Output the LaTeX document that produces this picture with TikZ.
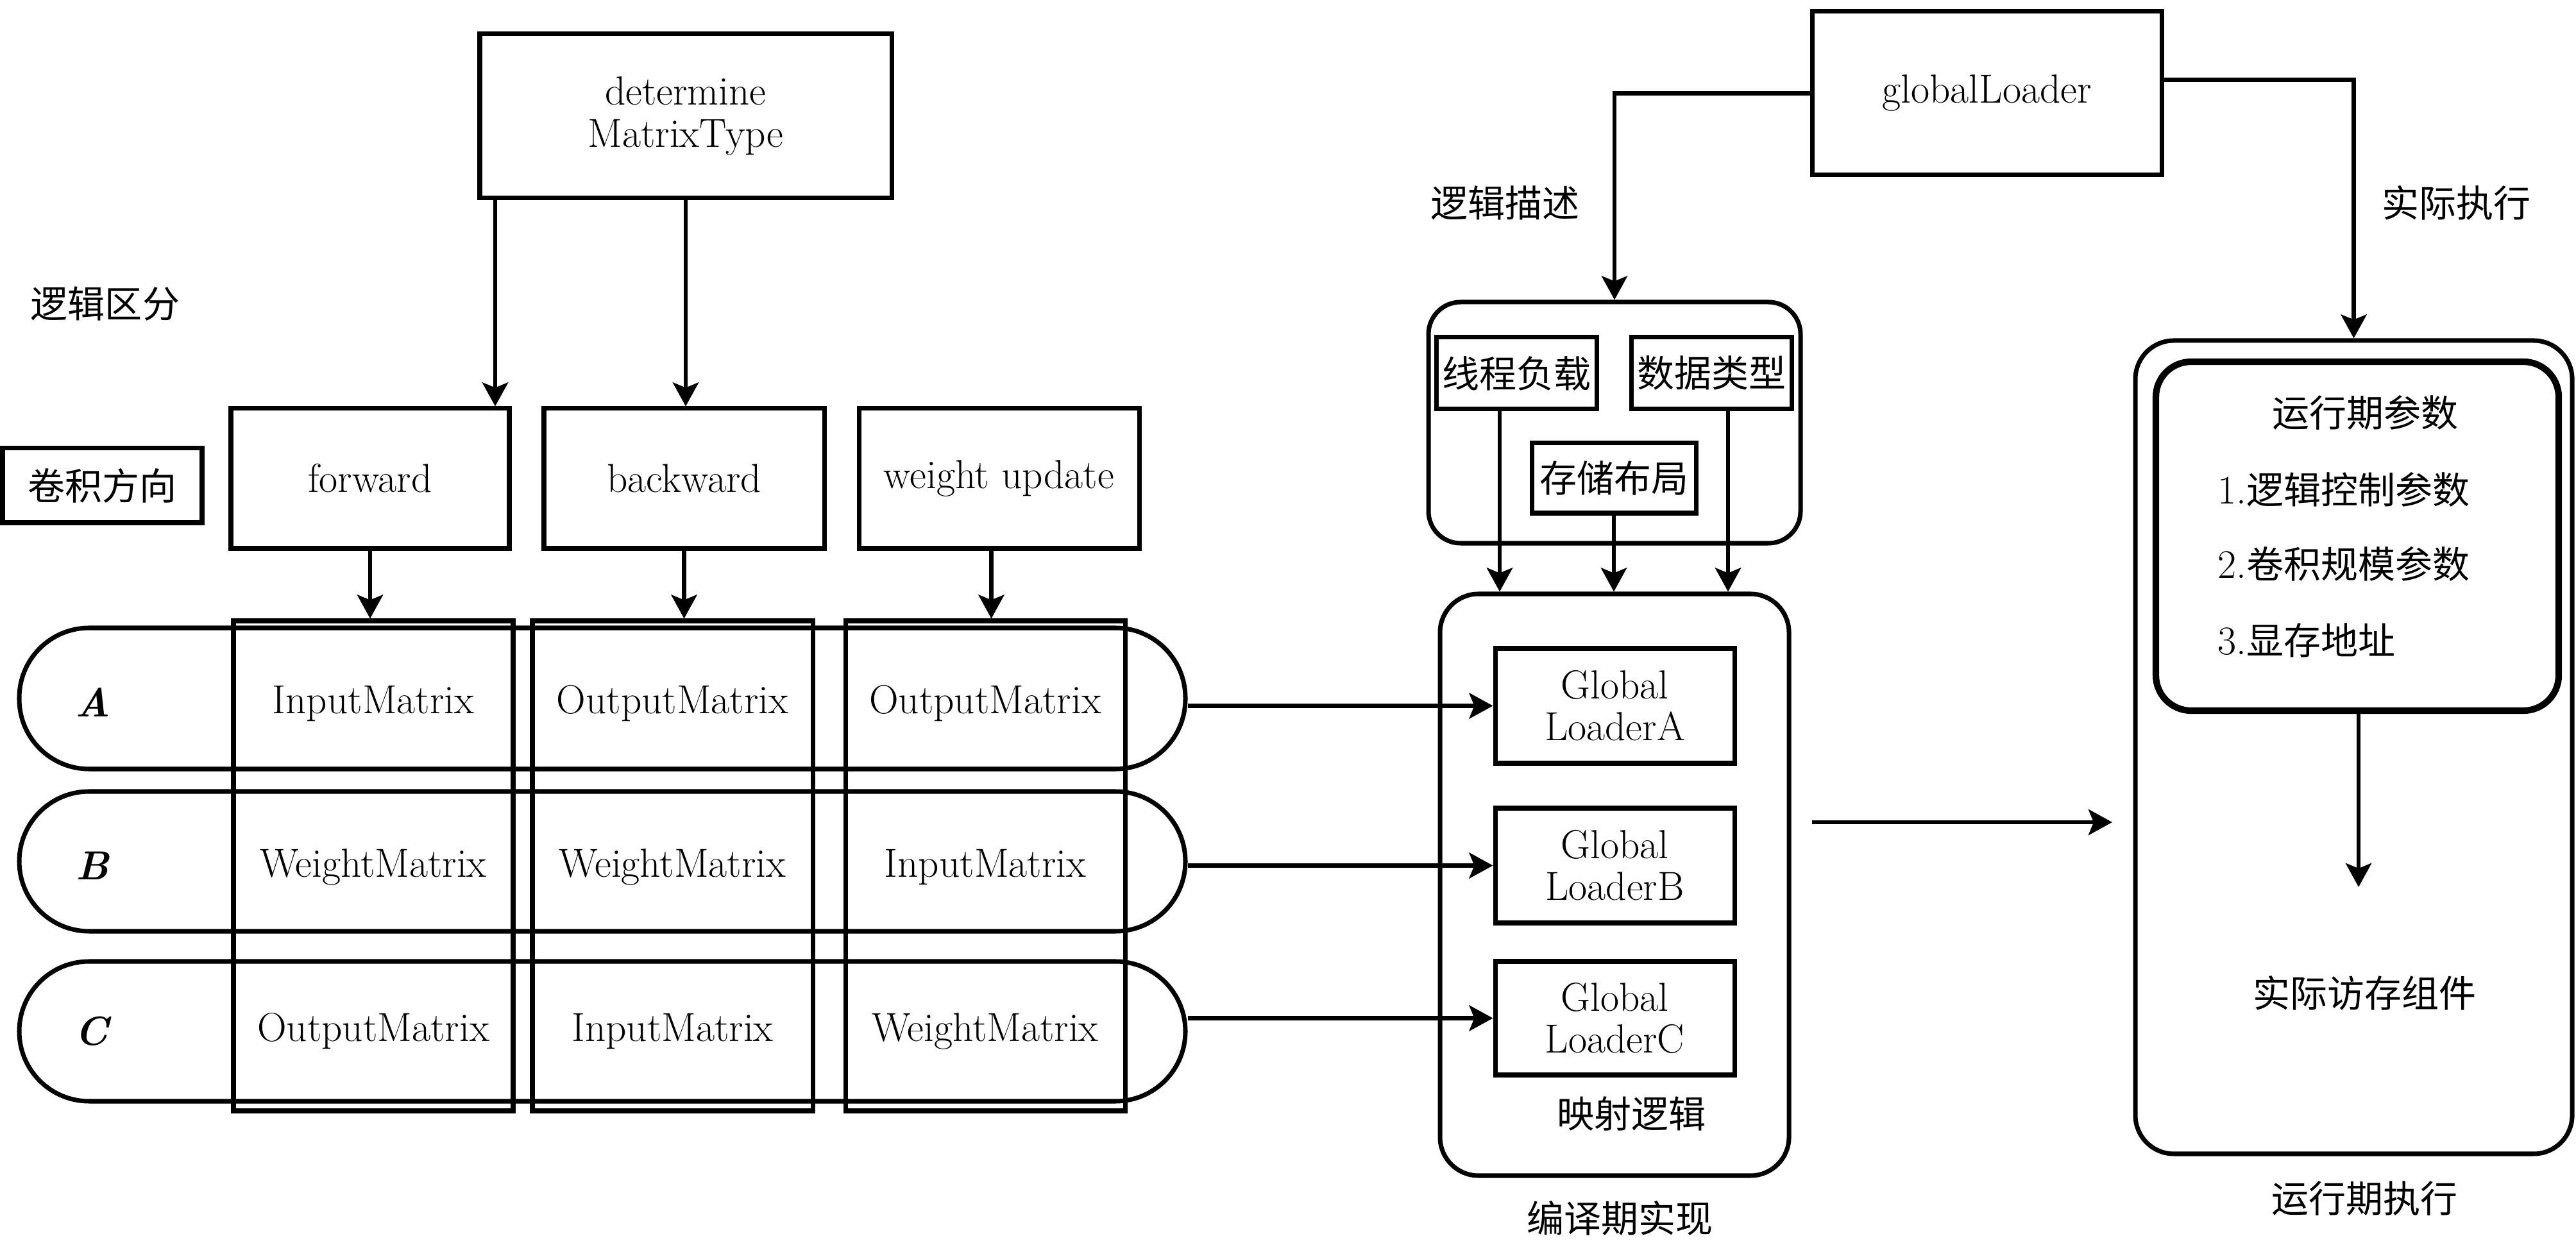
\documentclass[tikz,border=0pt]{standalone}
\usepackage{fontspec}
\newfontfamily\cjk[Scale=0.917]{Noto Sans CJK SC}
\usetikzlibrary{arrows.meta,calc}
\tikzset{
  base/.style={font=\fontsize{18}{18.5}\selectfont, inner sep=0pt, align=center},
  box/.style={base, draw, line width=2pt},
  arr/.style={line width=1.9pt, -{Stealth[length=0.37cm,width=0.4cm,inset=0.08cm]}},
  lbl/.style={base},
}
\begin{document}
\begin{tikzpicture}
\useasboundingbox (0,0) rectangle (40.16,19.37);

% left part
\node[box, minimum width=6.42cm, minimum height=2.56cm] (det) at (10.69,17.56) {determine\\MatrixType};
\node[box, minimum width=4.34cm, minimum height=2.18cm] (fwd) at (5.77,11.91) {forward};
\node[box, minimum width=4.37cm, minimum height=2.18cm] (bwd) at (10.665,11.91) {backward};
\node[box, minimum width=4.37cm, minimum height=2.18cm] (wup) at (15.575,11.91) {weight update};
\node[box, minimum width=3.11cm, minimum height=1.16cm] (dir) at (1.595,11.80) {\cjk 卷积方向};
\node[lbl] (ljqf) at (1.64,14.63) {\cjk 逻辑区分};

\draw[arr] ([xshift=-2.97cm]det.south) -- ([xshift=-2.97cm]det.south |- fwd.north);
\draw[arr] (det.south) -- (det.south |- bwd.north);

% pills
\node[box, rounded corners=1.09cm, minimum width=18.18cm, minimum height=2.20cm] (pA) at (9.39,8.48) {};
\node[box, rounded corners=1.09cm, minimum width=18.18cm, minimum height=2.18cm] (pB) at (9.39,5.94) {};
\node[box, rounded corners=1.09cm, minimum width=18.18cm, minimum height=2.18cm] (pC) at (9.39,3.29) {};

% columns
\node[box, minimum width=4.36cm, minimum height=7.64cm] (c1) at (5.82,5.87) {};
\node[box, minimum width=4.37cm, minimum height=7.64cm] (c2) at (10.485,5.87) {};
\node[box, minimum width=4.36cm, minimum height=7.64cm] (c3) at (15.36,5.87) {};

\draw[arr] (fwd.south) -- (fwd.south |- c1.north);
\draw[arr] (bwd.south) -- (bwd.south |- c2.north);
\draw[arr] ([xshift=-0.12cm]wup.south) -- ([xshift=-0.12cm]wup.south |- c3.north);

% row labels
\node[lbl] (lA) at (1.45,8.42) {\textbf{\textit{A}}};
\node[lbl] (lB) at (1.45,5.87) {\textbf{\textit{B}}};
\node[lbl] (lC) at (1.45,3.29) {\textbf{\textit{C}}};

% cells
\node[lbl] (a1) at (5.82,8.40) {InputMatrix};
\node[lbl] (a2) at (10.485,8.40) {OutputMatrix};
\node[lbl] (a3) at (15.36,8.40) {OutputMatrix};
\node[lbl] (b1) at (5.82,5.85) {WeightMatrix};
\node[lbl] (b2) at (10.485,5.85) {WeightMatrix};
\node[lbl] (b3) at (15.36,5.85) {InputMatrix};
\node[lbl] (d1) at (5.82,3.29) {OutputMatrix};
\node[lbl] (d2) at (10.485,3.29) {InputMatrix};
\node[lbl] (d3) at (15.36,3.29) {WeightMatrix};

% compile-time part
\node[box, rounded corners=0.6cm, minimum width=5.44cm, minimum height=9.07cm] (cmp) at (25.17,5.575) {};
\node[box, minimum width=3.73cm, minimum height=1.79cm] (gA) at (25.175,8.365) {Global\\LoaderA};
\node[box, minimum width=3.73cm, minimum height=1.79cm] (gB) at (25.175,5.875) {Global\\LoaderB};
\node[box, minimum width=3.73cm, minimum height=1.77cm] (gC) at (25.175,3.495) {Global\\LoaderC};
\node[lbl] (yslj) at (25.43,2.00) {\cjk 映射逻辑};
\node[lbl] (byq) at (25.25,0.38) {\cjk 编译期实现};

\draw[arr] (gA.west -| pA.east) -- (gA.west);
\draw[arr] (gB.west -| pB.east) -- (gB.west);
\draw[arr] (gC.west -| pC.east) -- (gC.west);

\node[box, rounded corners=0.5cm, minimum width=5.80cm, minimum height=3.76cm] (lg) at (25.17,12.78) {};
\node[box, minimum width=2.50cm, minimum height=1.12cm] (xc) at (23.64,13.55) {\cjk 线程负载};
\node[box, minimum width=2.50cm, minimum height=1.12cm] (sj) at (26.68,13.55) {\cjk 数据类型};
\node[box, minimum width=2.56cm, minimum height=1.09cm] (cc) at (25.16,11.915) {\cjk 存储布局};

\draw[arr] ([xshift=-0.26cm]xc.south) -- ([xshift=-0.26cm]xc.south |- cmp.north);
\draw[arr] (cc.south) -- (cc.south |- cmp.north);
\draw[arr] ([xshift=0.26cm]sj.south) -- ([xshift=0.26cm]sj.south |- cmp.north);

% globalLoader
\node[box, minimum width=5.45cm, minimum height=2.55cm] (gl) at (30.975,17.915) {globalLoader};
\node[lbl] (ljms) at (23.46,16.21) {\cjk 逻辑描述};
\node[lbl] (sjzx) at (38.29,16.21) {\cjk 实际执行};

% runtime part
\node[box, rounded corners=0.6cm, minimum width=6.81cm, minimum height=12.68cm] (rt) at (36.695,7.72) {};
\node[box, line width=2.9pt, rounded corners=0.55cm, minimum width=6.28cm, minimum height=5.44cm] (rp) at (36.75,11.01) {};
\node[lbl] (rtp) at (36.87,12.94) {\cjk 运行期参数};
\node[lbl, anchor=west] (p1) at (34.57,11.74) {1.{\cjk 逻辑控制参数}};
\node[lbl, anchor=west] (p2) at (34.57,10.58) {2.{\cjk 卷积规模参数}};
\node[lbl, anchor=west] (p3) at (34.57,9.39) {3.{\cjk 显存地址}};
\node[lbl] (sjfc) at (36.86,3.89) {\cjk 实际访存组件};
\node[lbl] (yxzx) at (36.86,0.68) {\cjk 运行期执行};

\draw[arr] (gl.west) -| (lg.north);
\draw[arr] ([yshift=0.21cm]gl.east) -| (rt.north);

\coordinate (ae) at (36.77,5.54);
\draw[arr] (rp.south -| ae) -- (ae);

\coordinate (m1) at (28.25,6.55);
\coordinate (m2) at (32.93,6.55);
\draw[arr] (m1) -- (m2);
\end{tikzpicture}
\end{document}
